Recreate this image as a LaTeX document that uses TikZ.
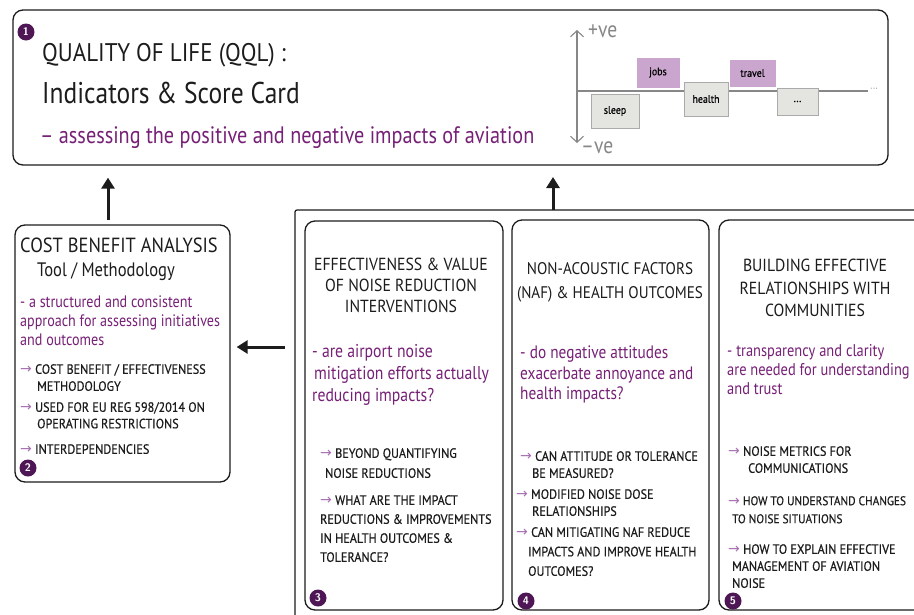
\documentclass[tikz,border=0pt]{standalone}
\usepackage{fontspec}
\setmainfont{PT Sans}
\newfontfamily\hand{PT Sans}[FakeStretch=0.9]
\newfontfamily\handl{PT Sans}[FakeStretch=0.85]
\newfontfamily\handb{PT Sans}[FakeStretch=0.9, FakeBold=0.5]
\newfontfamily\sym{DejaVu Sans}
\usetikzlibrary{arrows.meta}
\definecolor{ink}{RGB}{28,28,28}
\definecolor{plum}{RGB}{118,32,118}
\definecolor{badgec}{RGB}{78,22,84}
\definecolor{arrc}{RGB}{168,112,178}
\definecolor{lilac}{RGB}{202,165,206}
\definecolor{paper}{RGB}{228,228,224}
\definecolor{edgegray}{RGB}{170,170,170}
\definecolor{axisgray}{RGB}{135,135,135}
\newcommand{\ba}{{\sym\color{arrc}\fontsize{14}{14}\selectfont→}\ }
\begin{document}
\begin{tikzpicture}[x=1pt,y=-1pt,
  frame/.style={draw=ink, line width=1.3pt, rounded corners=10pt, inner sep=0pt},
  txt/.style={inner sep=0pt, text=ink, anchor=north west, align=left},
  ctr/.style={inner sep=0pt, text=ink, anchor=north, align=center},
  purp/.style={inner sep=0pt, text=plum, anchor=north west, align=left},
  badge/.style={circle, fill=badgec, text=white, inner sep=0pt, minimum size=17pt, font=\sffamily\bfseries\fontsize{11}{11}\selectfont},
  bigarrow/.style={draw=ink, line width=3pt, -{Triangle[width=13pt,length=11pt]}},
  chip/.style={draw=edgegray, line width=0.9pt, fill=paper, inner sep=0pt, font=\handb\fontsize{11}{11}\selectfont},
  lchip/.style={chip, fill=lilac, draw=lilac},
  axis/.style={draw=axisgray, line width=1.1pt}
]
\useasboundingbox (0,0) rectangle (914,614);
\clip (0,0) rectangle (914,614);
\fill[white] (0,0) rectangle (914,614);

% ---------- frames ----------
\node[frame, minimum width=875pt, minimum height=155pt] (qol) at (450.5,87.5) {};
\node[frame, minimum width=215pt, minimum height=257pt] (cba) at (122.5,353.5) {};
\node[frame, rounded corners=2pt, line width=1.2pt, minimum width=645pt, minimum height=430pt] (outer) at (617.5,425) {};
\node[frame, minimum width=198pt, minimum height=389pt] (b3) at (404,415.5) {};
\node[frame, minimum width=197pt, minimum height=390pt] (b4) at (610.5,415) {};
\node[frame, minimum width=216pt, minimum height=390pt] (b5) at (827,415) {};

% ---------- badges ----------
\node[badge] (n1) at (26,32) {1};
\node[badge] (n2) at (28,468) {2};
\node[badge] (n3) at (318,598) {3};
\node[badge] (n4) at (526,601) {4};
\node[badge] (n5) at (733,601) {5};

% ---------- top box text ----------
\node[txt, font=\hand\fontsize{25.5}{25.5}\selectfont] (t1) at (42,43) {QUALITY OF LIFE (QQL) :};
\node[txt, font=\handl\fontsize{30}{30}\selectfont] (t2) at (42,82) {Indicators \& Score Card};
\node[purp, font=\handl\fontsize{23.8}{23.8}\selectfont] (t3) at (40,126) {– assessing the positive and negative impacts of aviation};

% ---------- chart ----------
\coordinate (ytop) at (577,30);
\coordinate (ybot) at (577,143);
\coordinate (xl) at (577,91);
\coordinate (xr) at (868,91);
\draw[axis, {Straight Barb[length=6pt,width=13pt]}-{Straight Barb[length=6pt,width=13pt]}] (ytop) -- (ybot);
\draw[axis] (xl) -- (xr);
\node[inner sep=0pt, anchor=west, text=axisgray, font=\sym\fontsize{8}{8}\selectfont] (xdots) at (870,90) {···};
\node[inner sep=0pt, anchor=west, text=axisgray, font=\handl\fontsize{23}{23}\selectfont] (pve) at (588,31) {+ve};
\node[inner sep=0pt, anchor=west, text=axisgray, font=\handl\fontsize{23}{23}\selectfont] (nve) at (581,148) {–ve};
\node[chip, minimum width=48pt, minimum height=34pt] (sleep) at (615,111) {sleep};
\node[lchip, minimum width=42pt, minimum height=29pt] (jobs) at (658,72.5) {jobs};
\node[chip, minimum width=44pt, minimum height=34pt] (health) at (706,99) {health};
\node[lchip, minimum width=45pt, minimum height=26pt] (travel) at (752.5,73) {travel};
\node[chip, minimum width=41pt, minimum height=27pt] (more) at (797.5,101.5) {...};

% ---------- connectors ----------
\draw[bigarrow] ([xshift=-14.5pt,yshift=4pt]cba.north) -- ([xshift=-342.5pt,yshift=-12pt]qol.south);
\coordinate (a2s) at (553,210);
\coordinate (a2e) at (553,177);
\draw[bigarrow] (a2s) -- (a2e);
\coordinate (a3s) at (285,347);
\draw[bigarrow] (a3s) -- ([xshift=6pt]cba.east |- a3s);

% ---------- CBA box ----------
\node[txt, font=\hand\fontsize{20.5}{20.5}\selectfont] (c1) at (20,238) {COST BENEFIT ANALYSIS};
\node[txt, font=\handl\fontsize{19.5}{19.5}\selectfont] (c2) at (37,262) {Tool / Methodology};
\node[purp, font=\handl\fontsize{16.6}{19}\selectfont] (c3) at (20,296) {- a structured and consistent\\approach for assessing initiatives\\and outcomes};
\node[txt, font=\handb\fontsize{13.5}{17}\selectfont] (c4) at (20,364) {\ba COST BENEFIT / EFFECTIVENESS\\\hspace{17pt}METHODOLOGY};
\node[txt, font=\handb\fontsize{13.5}{16.5}\selectfont] (c5) at (20,402) {\ba USED FOR EU REG 598/2014 ON\\\hspace{17pt}OPERATING RESTRICTIONS};
\node[txt, font=\handb\fontsize{13.5}{17}\selectfont] (c6) at (20,444) {\ba INTERDEPENDENCIES};

% ---------- box 3 ----------
\node[ctr, font=\hand\fontsize{17.5}{21}\selectfont] (h3) at (401,258) {EFFECTIVENESS \& VALUE\\OF NOISE REDUCTION\\INTERVENTIONS};
\node[purp, font=\handl\fontsize{18.5}{22}\selectfont] (p3) at (312,344) {- are airport noise\\\hspace{2pt}mitigation efforts actually\\reducing impacts?};
\node[txt, font=\handb\fontsize{13.5}{20}\selectfont] (q3a) at (320,448) {\ba BEYOND QUANTIFYING\\\hspace{5pt}NOISE REDUCTIONS};
\node[txt, font=\handb\fontsize{13.5}{19}\selectfont] (q3b) at (320,495) {\ba WHAT ARE THE IMPACT\\REDUCTIONS \& IMPROVEMENTS\\IN HEALTH OUTCOMES \&\\TOLERANCE?};

% ---------- box 4 ----------
\node[ctr, font=\hand\fontsize{16.8}{24}\selectfont] (h4) at (610,262) {NON-ACOUSTIC FACTORS\\(NAF) \& HEALTH OUTCOMES};
\node[purp, font=\handl\fontsize{18}{20.5}\selectfont] (p4) at (520,346) {- do negative attitudes\\exacerbate annoyance and\\health impacts?};
\node[txt, font=\handb\fontsize{13.5}{17}\selectfont] (q4a) at (520,451) {\ba CAN ATTITUDE OR TOLERANCE\\\hspace{12pt}BE MEASURED?};
\node[txt, font=\handb\fontsize{13.5}{17}\selectfont] (q4b) at (516,489) {\ba MODIFIED NOISE DOSE\\\hspace{16pt}RELATIONSHIPS};
\node[txt, font=\handb\fontsize{13.5}{19.5}\selectfont] (q4c) at (516,527) {\ba CAN MITIGATING NAF REDUCE\\\hspace{12pt}IMPACTS AND IMPROVE HEALTH\\\hspace{12pt}OUTCOMES?};

% ---------- box 5 ----------
\node[ctr, font=\hand\fontsize{17.5}{22.5}\selectfont] (h5) at (815,259) {BUILDING EFFECTIVE\\RELATIONSHIPS WITH\\COMMUNITIES};
\node[purp, font=\handl\fontsize{17}{19}\selectfont] (p5) at (727,344) {- transparency and clarity\\are needed for understanding\\and trust};
\node[txt, font=\handb\fontsize{13.5}{17}\selectfont] (q5a) at (728,446) {\ba NOISE METRICS FOR\\\hspace{20pt}COMMUNICATIONS};
\node[txt, font=\handb\fontsize{12.6}{18}\selectfont] (q5b) at (728,496) {\ba HOW TO UNDERSTAND CHANGES\\\hspace{4pt}TO NOISE SITUATIONS};
\node[txt, font=\handb\fontsize{13.5}{17}\selectfont] (q5c) at (728,544) {\ba HOW TO EXPLAIN EFFECTIVE\\\hspace{4pt}MANAGEMENT OF AVIATION\\\hspace{4pt}NOISE};
\end{tikzpicture}
\end{document}
